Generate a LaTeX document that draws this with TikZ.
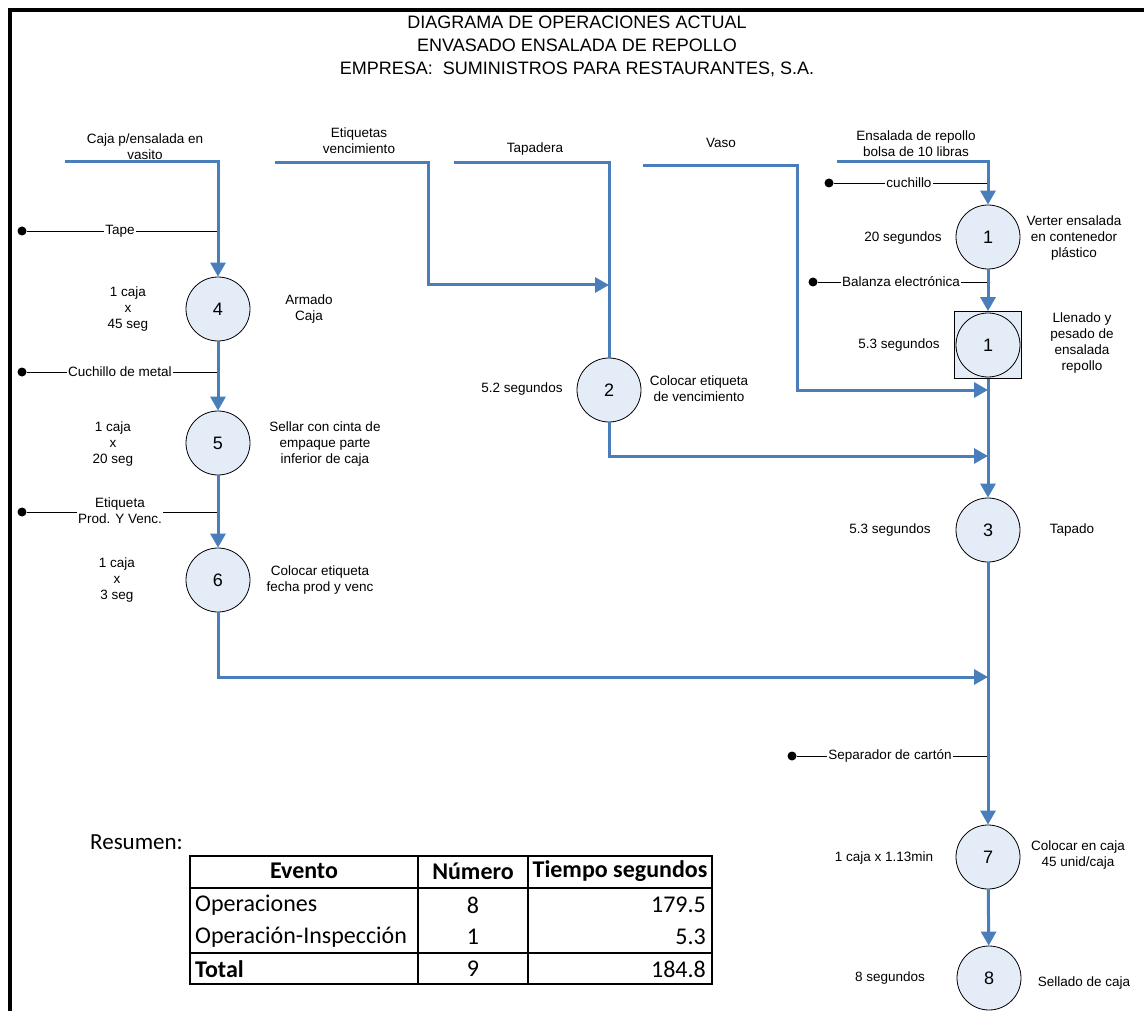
\documentclass[tikz,border=0pt]{standalone}
\usepackage{fontspec}
\setmainfont{Liberation Sans}
\newfontfamily\calibri{Carlito}
\usetikzlibrary{arrows.meta}
\definecolor{flowblue}{HTML}{4A7EBB}
\definecolor{opfill}{HTML}{E4ECF7}
\begin{document}
\begin{tikzpicture}[x=1pt,y=-1pt,
  flow/.style={draw=flowblue,line width=3pt},
  flowarrow/.style={flow,-{Triangle[length=14pt,width=15pt]}},
  op/.style={circle,draw=black,line width=0.8pt,fill=opfill,minimum size=64pt,inner sep=0pt,font=\fontsize{18}{20}\selectfont},
  insp/.style={rectangle,draw=black,line width=0.8pt,fill=opfill,minimum size=67pt,inner sep=0pt},
  lbl/.style={align=center,font=\fontsize{13.5}{16}\selectfont,inner sep=0pt},
  tool/.style={draw=black,line width=0.8pt},
  toollbl/.style={lbl,fill=white,inner sep=1pt},
  dotmark/.style={circle,fill=black,inner sep=0pt,minimum size=9pt},
  tbl/.style={font=\calibri\fontsize{24}{28}\selectfont,inner sep=0pt},
  tblb/.style={font=\calibri\bfseries\fontsize{24}{28}\selectfont,inner sep=0pt},
  tblline/.style={draw=black,line width=1.6pt},
]
\useasboundingbox (0,0) rectangle (1144,1011);
% frame
\draw[line width=4pt,line join=miter] (10,1011) -- (10,10) -- (1144,10);
% title
\node[font=\fontsize{18}{23}\selectfont,align=center] (title) at (577,46)
  {DIAGRAMA DE OPERACIONES ACTUAL\\ENVASADO ENSALADA DE REPOLLO\\EMPRESA:\ \ SUMINISTROS PARA RESTAURANTES, S.A.};

% ---------- operation nodes ----------
\node[op] (o4) at (218,309) {4};
\node[op] (o5) at (218,443) {5};
\node[op] (o6) at (218,580) {6};
\node[op] (o2) at (609,390) {2};
\node[op] (o1) at (988,237) {1};
\node[insp] (i1) at (988,345) {};
\node[op] (i1c) at (988,345) {1};
\node[op] (o3) at (988,530) {3};
\node[op] (o7) at (988,857) {7};
\node[op] (o8) at (989,978) {8};

% ---------- tool inputs ----------
\node[dotmark] (tapeD) at (22,231) {};
\coordinate (tapeE) at (218,231);
\draw[tool] (tapeD) -- (tapeE);
\node[toollbl] (tapeL) at (120,231) {Tape};

\node[dotmark] (cuchD) at (22,372) {};
\coordinate (cuchE) at (218,372);
\draw[tool] (cuchD) -- (cuchE);
\node[toollbl] (cuchL) at (120,372) {Cuchillo de metal};

\node[dotmark] (etD) at (22,512) {};
\coordinate (etE) at (218,512);
\draw[tool] (etD) -- (etE);
\node[toollbl] (etL) at (120,511) {Etiqueta\\Prod. Y Venc.};

\node[dotmark] (cu2D) at (829,183) {};
\coordinate (cu2E) at (988,183);
\draw[tool] (cu2D) -- (cu2E);
\node[toollbl] (cu2L) at (909,183) {cuchillo};

\node[dotmark] (balD) at (813,282) {};
\coordinate (balE) at (988,282);
\draw[tool] (balD) -- (balE);
\node[toollbl] (balL) at (901,282) {Balanza electrónica};

\node[dotmark] (sepD) at (792,756) {};
\coordinate (sepE) at (988,756);
\draw[tool] (sepD) -- (sepE);
\node[toollbl] (sepL) at (890,756) {Separador de cartón};

% ---------- left column ----------
\coordinate (cajaS) at (65,162);
\node[lbl] (cajaL) at (145,147) {Caja p/ensalada en\\vasito};
\draw[flowarrow] (cajaS) -| (o4.north);
\node[lbl] (t4) at (128,309) {1 caja\\x\\45 seg};
\node[lbl] (d4) at (309,309) {Armado\\Caja};
\draw[flowarrow] (o4) -- (o5);
\node[lbl] (t5) at (113,444) {1 caja\\x\\20 seg};
\node[lbl] (d5) at (325,444) {Sellar con cinta de\\empaque parte\\inferior de caja};
\draw[flowarrow] (o5) -- (o6);
\node[lbl] (t6) at (117,580) {1 caja\\x\\3 seg};
\node[lbl] (d6) at (320,580) {Colocar etiqueta\\fecha prod y venc};
\coordinate (j6) at (988,677);
\draw[flowarrow] (o6.south) |- (j6);

% ---------- middle ----------
\coordinate (etqS) at (275,163);
\coordinate (etqB) at (428,285);
\coordinate (j2) at (609,285);
\node[lbl] (etqL) at (359,141) {Etiquetas\\vencimiento};
\draw[flowarrow] (etqS) -| (etqB) -- (j2);
\coordinate (tapS) at (454,163);
\node[lbl] (tapL) at (535,149) {Tapadera};
\draw[flow] (tapS) -| (o2.north);
\node[lbl] (t2) at (522,389) {5.2 segundos};
\node[lbl] (d2) at (699,389) {Colocar etiqueta\\de vencimiento};
\coordinate (j3) at (988,456);
\draw[flowarrow] (o2.south) |- (j3);
\coordinate (vasoS) at (643,166);
\coordinate (vasoB) at (797,390);
\coordinate (j1) at (988,390);
\node[lbl] (vasoL) at (721,143) {Vaso};
\draw[flowarrow] (vasoS) -| (vasoB) -- (j1);

% ---------- right column ----------
\coordinate (ensS) at (837,162);
\node[lbl] (ensL) at (916,144) {Ensalada de repollo\\bolsa de 10 libras};
\draw[flowarrow] (ensS) -| (o1.north);
\node[lbl] (t1) at (903,238) {20 segundos};
\node[lbl] (d1) at (1074,238) {Verter ensalada\\en contenedor\\plástico};
\draw[flowarrow] (o1) -- (i1);
\node[lbl] (ti1) at (899,345) {5.3 segundos};
\node[lbl] (di1) at (1082,343) {Llenado y\\pesado de\\ensalada\\repollo};
\draw[flowarrow] (i1) -- (o3);
\node[lbl] (t3) at (890,530) {5.3 segundos};
\node[lbl] (d3) at (1072,530) {Tapado};
\draw[flowarrow] (o3) -- (o7);
\node[lbl] (t7) at (884,858) {1 caja x 1.13min};
\node[lbl] (d7) at (1078,855) {Colocar en caja\\45 unid/caja};
\draw[flowarrow] (o7) -- (o8);
\node[lbl] (t8) at (890,978) {8 segundos};
\node[lbl] (d8) at (1084,983) {Sellado de caja};

% ---------- summary table ----------
\node[font=\calibri\fontsize{23}{27}\selectfont,inner sep=0pt,anchor=west] (res) at (90,842) {Resumen:};
\draw[tblline] (190,856) rectangle (712,984);
\draw[tblline] (418,856) -- (418,984);
\draw[tblline] (528,856) -- (528,984);
\draw[tblline] (190,888) -- (712,888);
\draw[tblline] (190,953) -- (712,953);
\node[tblb] (h1) at (304,871) {Evento};
\node[tblb] (h2) at (473,871) {Número};
\node[tblb] (h3) at (620,871) {Tiempo segundos};
\node[tbl,anchor=west] (r1a) at (195,905) {Operaciones};
\node[tbl] (r1b) at (473,905) {8};
\node[tbl,anchor=east] (r1c) at (706,905) {179.5};
\node[tbl,anchor=west] (r2a) at (195,937) {Operación-Inspección};
\node[tbl] (r2b) at (473,937) {1};
\node[tbl,anchor=east] (r2c) at (706,937) {5.3};
\node[tblb,anchor=west] (r3a) at (195,969) {Total};
\node[tbl] (r3b) at (473,969) {9};
\node[tbl,anchor=east] (r3c) at (706,969) {184.8};
\end{tikzpicture}
\end{document}
